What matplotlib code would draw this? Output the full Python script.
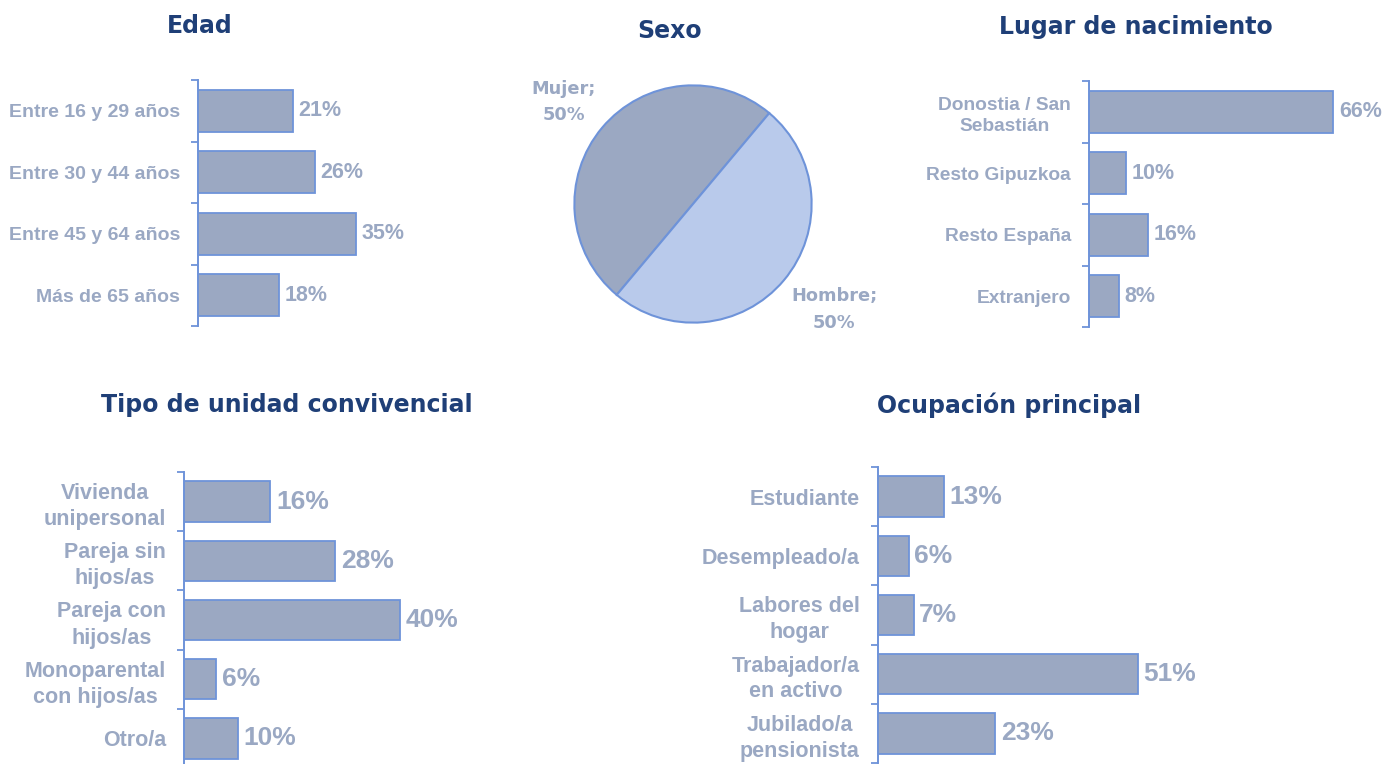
import matplotlib
matplotlib.use("Agg")
import matplotlib.pyplot as plt

# ---------------- data ----------------
edad_cats = ["Entre 16 y 29 años", "Entre 30 y 44 años", "Entre 45 y 64 años", "Más de 65 años"]
edad_vals = [21, 26, 35, 18]

sexo_cats = ["Mujer", "Hombre"]
sexo_vals = [50, 50]

lugar_cats = ["Donostia / San\nSebastián", "Resto Gipuzkoa", "Resto España", "Extranjero"]
lugar_vals = [66, 10, 16, 8]

tipo_cats = ["Vivienda\nunipersonal", "Pareja sin\nhijos/as", "Pareja con\nhijos/as",
             "Monoparental\ncon hijos/as", "Otro/a"]
tipo_vals = [16, 28, 40, 6, 10]

ocup_cats = ["Estudiante", "Desempleado/a", "Labores del\nhogar", "Trabajador/a\nen activo",
             "Jubilado/a\npensionista"]
ocup_vals = [13, 6, 7, 51, 23]

# ---------------- style ----------------
W, H = 1397, 764
BAR_FILL = "#9BA8C2"
BAR_EDGE = "#6E93D9"
TXT = "#9AA8C3"
TITLE = "#1F3F77"
PIE_LIGHT = "#B9CAEB"
LABEL_FONT = ["Liberation Sans", "DejaVu Sans"]
TITLE_FONT = ["DejaVu Sans"]

fig = plt.figure(figsize=(W / 100, H / 100), dpi=100)
fig.patch.set_facecolor("white")


def add_ax(x0, y_top, width, y_bottom):
    return fig.add_axes([x0 / W, 1 - y_bottom / H, width / W, (y_bottom - y_top) / H])


def bar_panel(ax, cats, vals, xmax, lab_fs, val_fs, linespacing=1.25):
    n = len(cats)
    pos = list(range(n))
    bars = ax.barh(pos, vals, height=0.68, color=BAR_FILL, edgecolor=BAR_EDGE, linewidth=1.3)
    ax.set_xlim(0, xmax)
    ax.set_ylim(n - 0.5, -0.5)
    for s in ("top", "right", "bottom"):
        ax.spines[s].set_visible(False)
    ax.spines["left"].set_color(BAR_EDGE)
    ax.spines["left"].set_linewidth(1.4)
    ax.set_xticks([])
    ax.set_yticks(pos)
    ax.set_yticklabels(cats)
    ax.set_yticks([p - 0.5 for p in pos] + [n - 0.5], minor=True)
    ax.tick_params(axis="y", which="major", length=0, pad=13)
    ax.tick_params(axis="y", which="minor", length=5, width=1.3, color=BAR_EDGE, direction="out")
    for lab in ax.get_yticklabels():
        lab.set_fontfamily(LABEL_FONT)
        lab.set_fontweight("bold")
        lab.set_fontsize(lab_fs)
        lab.set_color(TXT)
        lab.set_multialignment("center")
        lab.set_linespacing(linespacing)
    ax.bar_label(bars, labels=[f"{v}%" for v in vals], padding=4, color=TXT,
                 fontsize=val_fs, fontweight="bold", fontfamily=LABEL_FONT)
    ax.patch.set_alpha(0)


def title(x, y, s):
    fig.text(x / W, 1 - y / H, s, ha="center", va="center", fontsize=17,
             fontweight="bold", color=TITLE, family=TITLE_FONT)


# Edad
ax1 = add_ax(198, 80, 225, 326)
bar_panel(ax1, edad_cats, edad_vals, 50, 14, 15.5)
title(200, 26, "Edad")

# Lugar de nacimiento
ax3 = add_ax(1089, 81, 296, 327)
bar_panel(ax3, lugar_cats, lugar_vals, 80, 13.8, 15.5, linespacing=1.35)
title(1136, 27, "Lugar de nacimiento")

# Tipo de unidad convivencial
ax4 = add_ax(184, 472, 270, 768)
bar_panel(ax4, tipo_cats, tipo_vals, 50, 15.5, 19, linespacing=1.32)
title(287, 405, "Tipo de unidad convivencial")

# Ocupación principal
ax5 = add_ax(878, 467, 306, 763)
bar_panel(ax5, ocup_cats, ocup_vals, 60, 15.5, 19, linespacing=1.3)
title(1009, 405, "Ocupación principal")

# Sexo (pie)
ax2 = add_ax(572, 83, 242, 325)
wedges, _ = ax2.pie(sexo_vals, colors=[BAR_FILL, PIE_LIGHT], startangle=50, counterclock=True,
                    radius=1, wedgeprops=dict(edgecolor=BAR_EDGE, linewidth=1.5))
ax2.set_xlim(-1.02, 1.02)
ax2.set_ylim(-1.02, 1.02)
ax2.set_aspect("equal")
label_pos = [(-1.09, 0.86), (1.19, -0.89)]
for (lx, ly), c, v in zip(label_pos, sexo_cats, sexo_vals):
    ax2.text(lx, ly, f"{c};\n{v}%", ha="center", va="center", multialignment="center",
             fontsize=12.8, fontweight="bold", color=TXT, family=TITLE_FONT,
             linespacing=1.6, clip_on=False)
title(670, 31, "Sexo")

fig.savefig("out.png", dpi=100, facecolor="white")
